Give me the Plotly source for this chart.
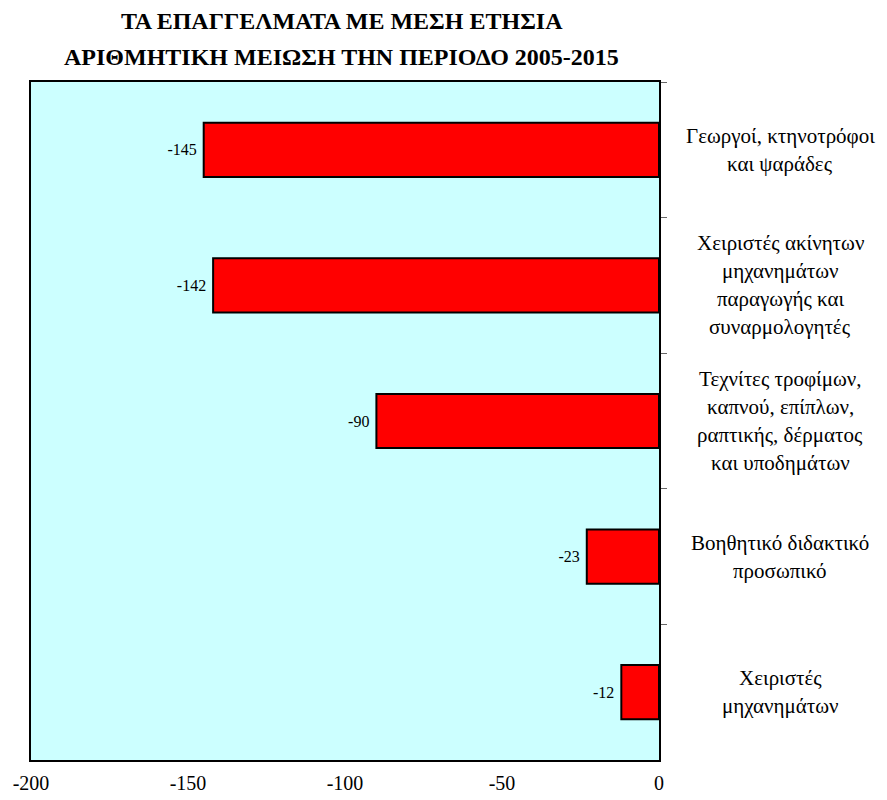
import plotly.graph_objects as go

# Επαγγέλματα (από πάνω προς τα κάτω) και μέση ετήσια μεταβολή
OCCUPATIONS = [
    "Γεωργοί, κτηνοτρόφοι<br>και ψαράδες",
    "Χειριστές ακίνητων<br>μηχανημάτων<br>παραγωγής και<br>συναρμολογητές",
    "Τεχνίτες τροφίμων,<br>καπνού, επίπλων,<br>ραπτικής, δέρματος<br>και υποδημάτων",
    "Βοηθητικό διδακτικό<br>προσωπικό",
    "Χειριστές<br>μηχανημάτων",
]
CHANGE = [-145, -142, -90, -23, -12]
X_TICKS = [-200, -150, -100, -50, 0]

TITLE_LINES = [
    "ΤΑ ΕΠΑΓΓΕΛΜΑΤΑ ΜΕ ΜΕΣΗ ΕΤΗΣΙΑ",
    "ΑΡΙΘΜΗΤΙΚΗ ΜΕΙΩΣΗ ΤΗΝ ΠΕΡΙΟΔΟ 2005-2015",
]

SERIF = "Liberation Serif, Times New Roman, serif"
LINE_GAP = 28  # px ανάμεσα στις γραμμές των ετικετών

fig = go.Figure()
fig.add_trace(go.Bar(
    x=CHANGE,
    y=OCCUPATIONS,
    orientation="h",
    width=0.4,
    marker=dict(color="#FF0000", line=dict(color="black", width=2)),
    # nbsp για λίγη απόσταση από την άκρη της μπάρας, παύλα αντί για unicode minus
    text=[f"{v}\u00a0" for v in CHANGE],
    textposition="outside",
    textfont=dict(family=SERIF, size=16, color="black"),
    cliponaxis=False,
    hovertemplate="%{x}<extra></extra>",
))

# Ετικέτες κατηγοριών δεξιά, κεντραρισμένες
for occ in OCCUPATIONS:
    lines = occ.split("<br>")
    n = len(lines)
    for i, line in enumerate(lines):
        fig.add_annotation(
            x=1.193, xref="paper", y=occ, yref="y",
            text=line, showarrow=False, xanchor="center", yanchor="middle",
            yshift=((n - 1) / 2 - i) * LINE_GAP,
            font=dict(family=SERIF, size=21, color="black"),
        )

# Τίτλος σε δύο γραμμές
for line, ypos in zip(TITLE_LINES, [1.09, 1.037]):
    fig.add_annotation(
        x=0.495, xref="paper", y=ypos, yref="paper",
        text=f"<b>{line}</b>", showarrow=False, xanchor="center", yanchor="middle",
        font=dict(family=SERIF, size=24, color="black"),
    )

# η σελίδα έχει 8px περιθώριο στο body, άρα το σχήμα μικραίνει ανάλογα
fig.update_layout(
    width=879, height=792,
    paper_bgcolor="white",
    plot_bgcolor="#CCFFFF",
    showlegend=False,
    margin=dict(l=23, r=228, t=74, b=40),
)
fig.update_xaxes(
    range=[-200, 0], tickvals=X_TICKS, ticktext=[str(t) for t in X_TICKS],
    ticks="", showgrid=False, zeroline=False, automargin=False,
    showline=True, linecolor="black", linewidth=2, mirror=True,
    tickfont=dict(family=SERIF, size=20, color="black"), ticklabelstandoff=4,
)
fig.update_yaxes(
    autorange="reversed", side="right", showticklabels=False, automargin=False,
    ticks="outside", tickson="boundaries", ticklen=6, tickcolor="#666",
    showgrid=False, showline=True, linecolor="black", linewidth=2, mirror=True,
)

fig.write_html("out.html")
